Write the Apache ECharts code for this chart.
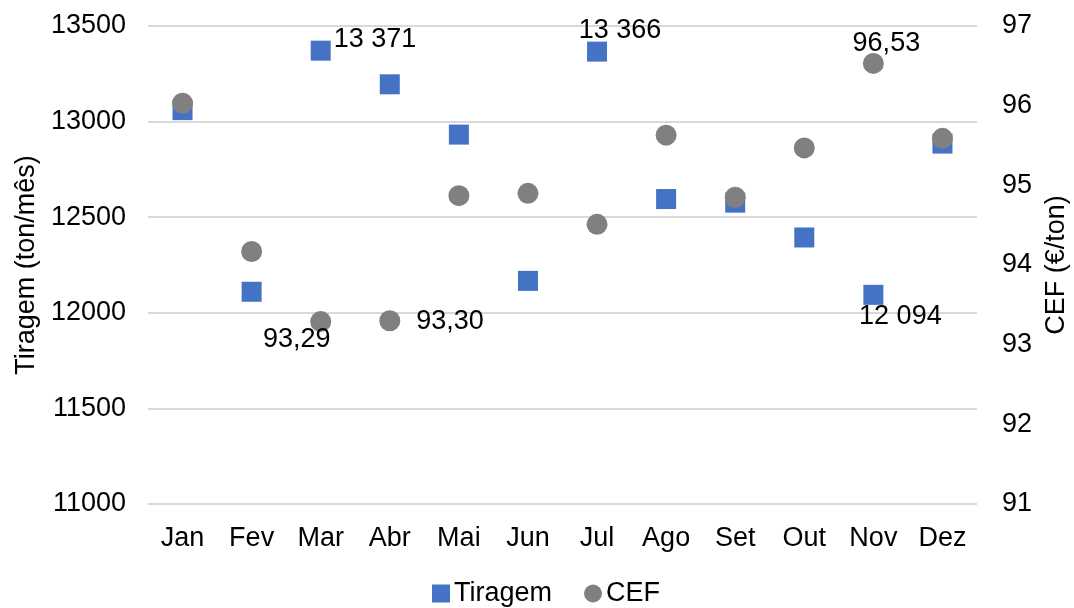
<!DOCTYPE html>
<html>
<head>
<meta charset="utf-8">
<script src="https://cdn.jsdelivr.net/npm/echarts@6/dist/echarts.min.js"></script>
<style>html,body{margin:0;padding:0;background:#fff}#c{width:1074px;height:608px}</style>
</head>
<body>
<div id="c"></div>
<script>
const categories = ['Jan','Fev','Mar','Abr','Mai','Jun','Jul','Ago','Set','Out','Nov','Dez'];
const tiragem = [13060, 12110, 13371, 13195, 12932, 12167, 13366, 12595, 12576, 12394, 12094, 12885];
const cef = [96.03, 94.17, 93.29, 93.30, 94.87, 94.90, 94.51, 95.63, 94.85, 95.47, 96.53, 95.59];
const leftTicks = [11000, 13500, 500];
const rightTicks = [91, 97, 1];

const FONT = 'Liberation Sans, Arial, sans-serif';
const FS = 27;
const fmtT = v => String(v).replace(/\B(?=(\d{3})+(?!\d))/g, ' ');
const fmtC = v => v.toFixed(2).replace('.', ',');

const tLabels = {
  2: {position: 'right', distance: 3, offset: [0, -11]},
  6: {position: 'top', distance: 0, offset: [23, 2]},
  10: {position: 'bottom', distance: 0, offset: [27, -2]}
};
const cLabels = {
  2: {position: 'bottom', distance: 0, offset: [-24, -6]},
  3: {position: 'right', distance: 16, offset: [0, 1]},
  10: {position: 'top', distance: 0, offset: [13, 4]}
};
const lblStyle = {show: true, color: '#000', fontFamily: FONT, fontSize: FS};

const tData = tiragem.map((v, i) => tLabels[i]
  ? {value: v, label: Object.assign({}, lblStyle, tLabels[i], {formatter: p => fmtT(p.value)})}
  : v);
const cData = cef.map((v, i) => cLabels[i]
  ? {value: v, label: Object.assign({}, lblStyle, cLabels[i], {formatter: p => fmtC(p.value)})}
  : v);

const chart = echarts.init(document.getElementById('c'), null, {renderer: 'canvas'});
chart.setOption({
  animation: false,
  textStyle: {fontFamily: FONT},
  grid: {left: 148, right: 97, top: 26, bottom: 104, containLabel: false, outerBoundsMode: 'none'},
  legend: {
    bottom: -4, left: 427,
    itemWidth: 18, itemHeight: 18, itemGap: 32,
    textStyle: {fontFamily: FONT, fontSize: FS, color: '#000', padding: [0, 0, 0, -1]},
    data: [{name: 'Tiragem', icon: 'rect'}, {name: 'CEF', icon: 'circle'}]
  },
  xAxis: {
    type: 'category', data: categories,
    axisLine: {show: false}, axisTick: {show: false},
    axisLabel: {color: '#000', fontFamily: FONT, fontSize: FS, margin: 21}
  },
  yAxis: [{
    type: 'value', min: leftTicks[0], max: leftTicks[1], interval: leftTicks[2],
    name: 'Tiragem (ton/mês)', nameLocation: 'middle', nameGap: 100, nameRotate: 90,
    nameTextStyle: {color: '#000', fontFamily: FONT, fontSize: FS},
    axisLine: {show: false}, axisTick: {show: false},
    axisLabel: {color: '#000', fontFamily: FONT, fontSize: FS, margin: 22, formatter: v => String(v)},
    splitLine: {lineStyle: {color: '#d9d9d9', width: 2}}
  }, {
    type: 'value', min: rightTicks[0], max: rightTicks[1], interval: rightTicks[2],
    position: 'right',
    name: 'CEF (€/ton)', nameLocation: 'middle', nameGap: 66, nameRotate: 90,
    nameTextStyle: {color: '#000', fontFamily: FONT, fontSize: FS},
    axisLine: {show: false}, axisTick: {show: false},
    axisLabel: {color: '#000', fontFamily: FONT, fontSize: FS, margin: 25, formatter: v => String(v)},
    splitLine: {show: false}
  }],
  series: [{
    name: 'Tiragem', type: 'scatter', yAxisIndex: 0,
    symbol: 'rect', symbolSize: 20,
    itemStyle: {color: '#4472C4', opacity: 1},
    data: tData
  }, {
    name: 'CEF', type: 'scatter', yAxisIndex: 1,
    symbol: 'circle', symbolSize: 21,
    itemStyle: {color: '#808080', opacity: 1},
    data: cData
  }]
});
</script>
</body>
</html>
